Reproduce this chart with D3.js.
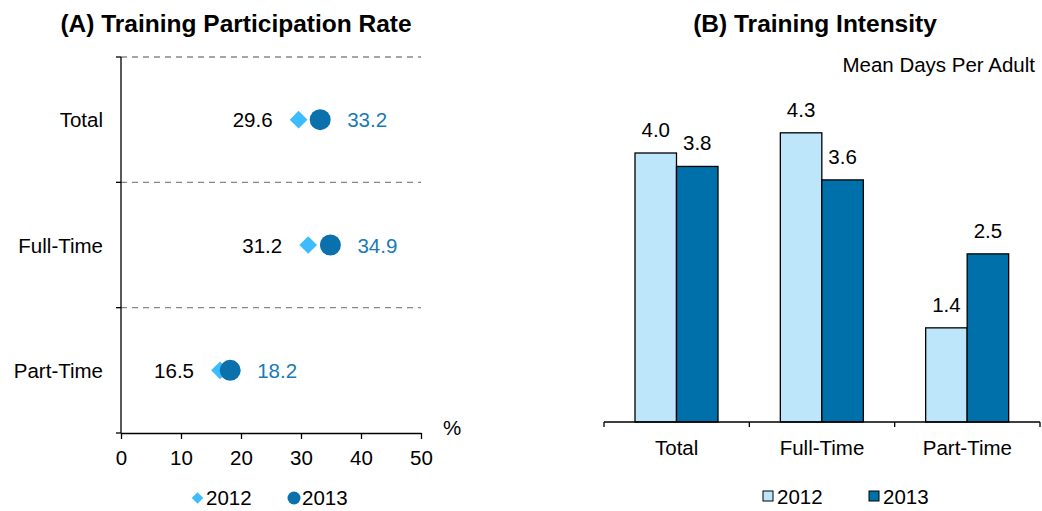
<!DOCTYPE html>
<html>
<head>
<meta charset="utf-8">
<script src="https://cdn.jsdelivr.net/npm/d3@7"></script>
<style>
  body { margin: 0; background: #fff; }
  text { font-family: "Liberation Sans", Arial, sans-serif; }
</style>
</head>
<body>
<div id="chart"></div>
<script>
var categories = ["Total", "Full-Time", "Part-Time"];
var years = ["2012", "2013"];
var rate2012 = [29.6, 31.2, 16.5];
var rate2013 = [33.2, 34.9, 18.2];
var days2012 = [4.0, 4.3, 1.4];
var days2013 = [3.8, 3.6, 2.5];
var rateTicks = [0, 10, 20, 30, 40, 50];

var lightBlue = "#bde6fb";
var darkBlue = "#0070aa";
var diamondBlue = "#3cbcfc";
var circleBlue = "#0a71ad";
var fs = "20.5px";

var svg = d3.select("#chart")
        .append("svg")
        .attr("width", 1042)
        .attr("height", 511);

// ---- panel A
var xA = d3.scaleLinear().domain([0, 50]).range([121, 421]);
var yA = d3.scaleBand().domain(categories).range([57, 433]);

svg.append("text")
        .attr("x", 236).attr("y", 32)
        .attr("text-anchor", "middle")
        .attr("font-size", "24.5px")
        .attr("font-weight", "bold")
        .text("(A) Training Participation Rate");

// dashed separators
svg.selectAll(".sep")
        .data(categories)
        .enter().append("line")
        .attr("x1", 121).attr("x2", 421)
        .attr("y1", function (d) { return yA(d); })
        .attr("y2", function (d) { return yA(d); })
        .attr("stroke", "#888")
        .attr("stroke-width", 1.3)
        .attr("stroke-dasharray", "6,5");

var axA = svg.append("g")
        .attr("transform", "translate(0,433)")
        .call(d3.axisBottom(xA).tickValues(rateTicks).tickSize(6).tickPadding(11).tickSizeOuter(0));
axA.select(".domain").attr("stroke", "#000").attr("stroke-width", 1.3);
axA.selectAll(".tick line").attr("stroke", "#000").attr("stroke-width", 1.3);
axA.selectAll("text").attr("font-size", fs).attr("fill", "#000")
        .style("font-family", "Liberation Sans, Arial, sans-serif");

// y axis line with boundary ticks
svg.append("line")
        .attr("x1", 121).attr("x2", 121).attr("y1", 57).attr("y2", 433)
        .attr("stroke", "#000").attr("stroke-width", 1.3);
var bounds = categories.map(function (d) { return yA(d); }).concat([433]);
svg.selectAll(".ytick")
        .data(bounds)
        .enter().append("line")
        .attr("x1", 116).attr("x2", 121)
        .attr("y1", function (d) { return d; })
        .attr("y2", function (d) { return d; })
        .attr("stroke", "#000").attr("stroke-width", 1.3);

svg.selectAll(".catA")
        .data(categories)
        .enter().append("text")
        .attr("x", 103)
        .attr("y", function (d) { return yA(d) + yA.bandwidth() / 2 + 7.5; })
        .attr("text-anchor", "end")
        .attr("font-size", fs)
        .text(function (d) { return d; });

svg.append("text")
        .attr("x", 443).attr("y", 435)
        .attr("font-size", fs)
        .text("%");

var diamond = d3.symbol().type(d3.symbolDiamond2).size(200);

svg.selectAll(".d12")
        .data(rate2012)
        .enter().append("path")
        .attr("d", diamond)
        .attr("transform", function (d, i) {
            return "translate(" + xA(d) + "," + (yA(categories[i]) + yA.bandwidth() / 2) + ")";
        })
        .attr("fill", diamondBlue);

svg.selectAll(".c13")
        .data(rate2013)
        .enter().append("circle")
        .attr("cx", function (d) { return xA(d); })
        .attr("cy", function (d, i) { return yA(categories[i]) + yA.bandwidth() / 2; })
        .attr("r", 10.5)
        .attr("fill", circleBlue);

svg.selectAll(".l12")
        .data(rate2012)
        .enter().append("text")
        .attr("x", function (d) { return xA(d) - 26; })
        .attr("y", function (d, i) { return yA(categories[i]) + yA.bandwidth() / 2 + 7.5; })
        .attr("text-anchor", "end")
        .attr("font-size", fs)
        .text(function (d) { return d.toFixed(1); });

svg.selectAll(".l13")
        .data(rate2013)
        .enter().append("text")
        .attr("x", function (d) { return xA(d) + 27; })
        .attr("y", function (d, i) { return yA(categories[i]) + yA.bandwidth() / 2 + 7.5; })
        .attr("font-size", fs)
        .attr("fill", "#1a7ab5")
        .text(function (d) { return d.toFixed(1); });

// legend A
svg.append("path")
        .attr("d", d3.symbol().type(d3.symbolDiamond2).size(85))
        .attr("transform", "translate(197.5,498)")
        .attr("fill", diamondBlue);
svg.append("text").attr("x", 206).attr("y", 505).attr("font-size", fs).text("2012");
svg.append("circle").attr("cx", 294).attr("cy", 498).attr("r", 6.5).attr("fill", circleBlue);
svg.append("text").attr("x", 302).attr("y", 505).attr("font-size", fs).text("2013");

// ---- panel B
var xB = d3.scaleBand().domain(categories).range([604, 1040]);
var xInner = d3.scaleBand().domain(years).range([31, 114]);
var yB = d3.scaleLinear().domain([0, 5]).range([422, 85.75]);

svg.append("text")
        .attr("x", 815).attr("y", 32)
        .attr("text-anchor", "middle")
        .attr("font-size", "24.5px")
        .attr("font-weight", "bold")
        .text("(B) Training Intensity");

svg.append("text")
        .attr("x", 1035).attr("y", 72)
        .attr("text-anchor", "end")
        .attr("font-size", fs)
        .text("Mean Days Per Adult");

var series = [days2012, days2013];
var fills = [lightBlue, darkBlue];

series.forEach(function (vals, s) {
    svg.selectAll(".bar" + s)
            .data(vals)
            .enter().append("rect")
            .attr("x", function (d, i) { return xB(categories[i]) + xInner(years[s]); })
            .attr("y", function (d) { return yB(d); })
            .attr("width", xInner.bandwidth())
            .attr("height", function (d) { return yB(0) - yB(d); })
            .attr("fill", fills[s])
            .attr("stroke", "#000")
            .attr("stroke-width", 1.3);

    svg.selectAll(".bl" + s)
            .data(vals)
            .enter().append("text")
            .attr("x", function (d, i) { return xB(categories[i]) + xInner(years[s]) + xInner.bandwidth() / 2; })
            .attr("y", function (d) { return yB(d) - 16; })
            .attr("text-anchor", "middle")
            .attr("font-size", fs)
            .text(function (d) { return d.toFixed(1); });
});

var axB = svg.append("g")
        .attr("transform", "translate(0,422)")
        .call(d3.axisBottom(xB).tickSize(0).tickPadding(18));
axB.select(".domain").remove();
axB.selectAll("text").attr("font-size", fs).attr("fill", "#000")
        .style("font-family", "Liberation Sans, Arial, sans-serif");

svg.append("line")
        .attr("x1", 604).attr("x2", 1040).attr("y1", 422).attr("y2", 422)
        .attr("stroke", "#000").attr("stroke-width", 1.3);
var bBounds = categories.map(function (d) { return xB(d); }).concat([1040]);
svg.selectAll(".xtickB")
        .data(bBounds)
        .enter().append("line")
        .attr("x1", function (d) { return d; })
        .attr("x2", function (d) { return d; })
        .attr("y1", 422).attr("y2", 427)
        .attr("stroke", "#000").attr("stroke-width", 1.3);

// legend B
svg.append("rect").attr("x", 763).attr("y", 491).attr("width", 10).attr("height", 10)
        .attr("fill", lightBlue).attr("stroke", "#000").attr("stroke-width", 1);
svg.append("text").attr("x", 777).attr("y", 504).attr("font-size", fs).text("2012");
svg.append("rect").attr("x", 869).attr("y", 491).attr("width", 10).attr("height", 10)
        .attr("fill", darkBlue).attr("stroke", "#000").attr("stroke-width", 1);
svg.append("text").attr("x", 883).attr("y", 504).attr("font-size", fs).text("2013");
</script>
</body>
</html>
